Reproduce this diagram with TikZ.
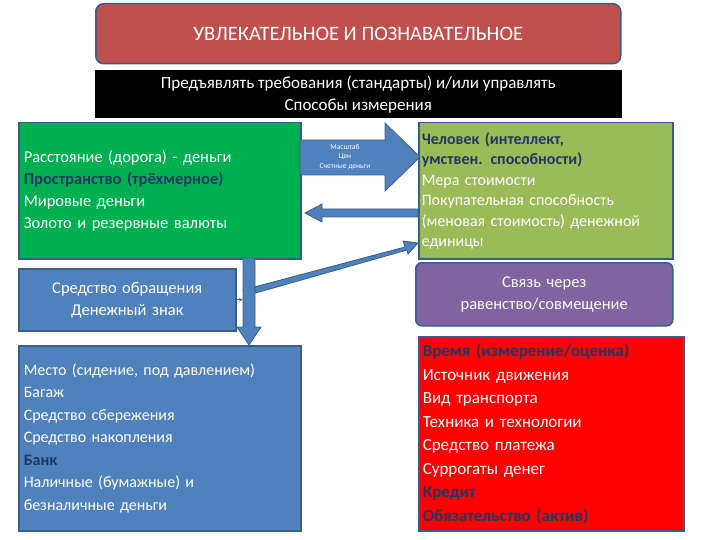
\documentclass[tikz,border=0pt]{standalone}
\usepackage{fontspec}
\setmainfont{Carlito}
\usetikzlibrary{shapes.arrows}
\definecolor{tred}{HTML}{C0504D}
\definecolor{tgreen}{HTML}{00B050}
\definecolor{tolive}{HTML}{9BBB59}
\definecolor{tblue}{HTML}{4F81BD}
\definecolor{tpurple}{HTML}{8064A2}
\definecolor{tnavy}{HTML}{1F3864}
\definecolor{tborder}{HTML}{385D8A}
\tikzset{
  box/.style={draw=tborder, line width=1.5pt, text=white, font=\fontsize{16.5}{22}\selectfont, align=left, inner sep=6pt, anchor=north west},
  arr/.style={fill=tblue, draw=tborder, line width=0.8pt},
}
\begin{document}
\begin{tikzpicture}[x=1pt,y=-1pt]
\useasboundingbox (0,0) rectangle (720,540);
% title
\node[box, fill=tred, draw=tborder, rounded corners=8pt, minimum width=525pt, minimum height=60pt, align=center, font=\fontsize{20.5}{24}\selectfont] (title) at (95,3) {УВЛЕКАТЕЛЬНОЕ И ПОЗНАВАТЕЛЬНОЕ};
\node[box, fill=black, draw=black, minimum width=525pt, minimum height=47pt, align=center, inner sep=2pt, font=\fontsize{17}{22}\selectfont] (req) at (95,70) {Предъявлять требования (стандарты) и/или управлять\\Способы измерения};
% green
\node[box, fill=tgreen, minimum width=282pt, minimum height=136pt, text width=272pt, inner sep=4pt] (green) at (18,122) {Расстояние (дорога) - деньги\\\textcolor{tnavy}{\textbf{Пространство (трёхмерное)}}\\Мировые деньги\\Золото и резервные валюты};
% olive
\node[box, fill=tolive, minimum width=254pt, minimum height=136pt, text width=248pt, inner sep=3pt, font=\fontsize{16}{20.5}\selectfont] (olive) at (418,122) {\textcolor{tnavy}{\textbf{Человек (интеллект,}}\\\textcolor{tnavy}{\textbf{умствен. способности)}}\\Мера стоимости\\Покупательная способность\\(меновая стоимость) денежной\\единицы};
% blue small
\node[box, fill=tblue, minimum width=217pt, minimum height=62pt, align=center, text width=205pt] (circ) at (18,268) {Средство обращения\\Денежный знак};
% purple
\node[box, fill=tpurple, rounded corners=6pt, minimum width=257pt, minimum height=63pt, align=center, text width=245pt] (link) at (415,262) {Связь через\\равенство/совмещение};
% blue big
\node[box, fill=tblue, minimum width=282pt, minimum height=185pt, text width=272pt, inner sep=4pt, font=\fontsize{16}{22.5}\selectfont] (place) at (18,345) {Место (сидение, под давлением)\\Багаж\\Средство сбережения\\Средство накопления\\\textcolor{tnavy}{\textbf{Банк}}\\Наличные (бумажные) и\\безналичные деньги};
% red
\node[box, fill=red, draw=tborder, minimum width=265pt, minimum height=194pt, text width=257pt, inner sep=4pt, font=\fontsize{17}{23.5}\selectfont] (time) at (418,336) {\textcolor{tnavy}{\textbf{Время (измерение/оценка)}}\\Источник движения\\Вид транспорта\\Техника и технологии\\Средство платежа\\Суррогаты денег\\\textcolor{tnavy}{\textbf{Кредит}}\\\textcolor{tnavy}{\textbf{Обязательство (актив)}}};
% big right arrow
\draw[arr] (300,140) -- (385,140) -- (385,123) -- (420,157) -- (385,191) -- (385,175) -- (300,175) -- cycle;
\node[text=white, align=center, font=\fontsize{7.5}{9.5}\selectfont] (scale) at (345,157) {Масштаб\\Цен\\Счетные деньги};
% left arrow
\draw[arr] (418,209) -- (322,209) -- (322,204) -- (305,213) -- (322,222) -- (322,217) -- (418,217) -- cycle;
% diagonal arrow
\draw[arr] (243,290) -- (405,247) -- (403,241) -- (418,243) -- (408,254) -- (407,250) -- (245,296) -- cycle;
% down arrow
\draw[arr] (243,258) -- (255,258) -- (255,327) -- (261,327) -- (249,345) -- (237,327) -- (243,327) -- cycle;
% thin arrow
\draw[tborder, line width=0.6pt, -stealth] (circ.east) -- ++(6,0);
\end{tikzpicture}
\end{document}
